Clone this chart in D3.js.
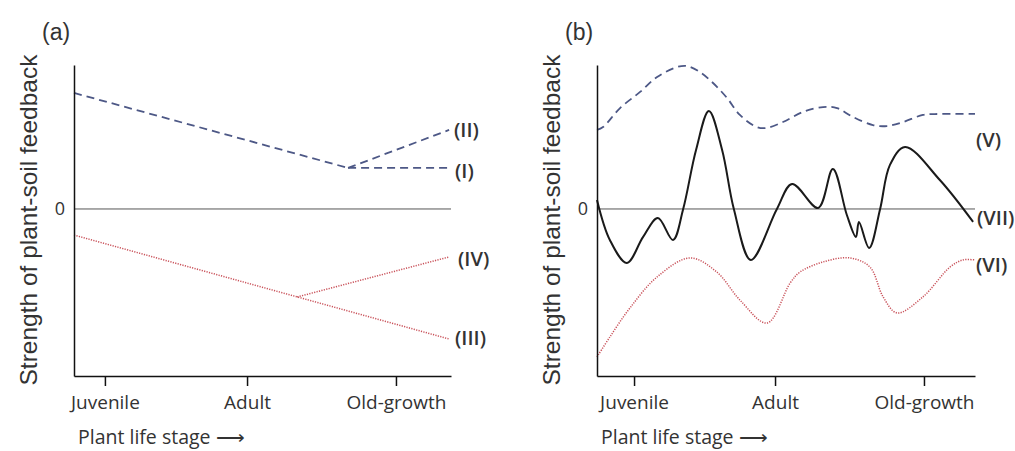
<!DOCTYPE html>
<html>
<head>
<meta charset="utf-8">
<script src="https://cdn.jsdelivr.net/npm/d3@7"></script>
<style>
  body { margin: 0; background: #fff; }
  text { font-family: "Open Sans", sans-serif; fill: #333; }
</style>
</head>
<body>
<svg></svg>
<script>
        const svgWidth = 1015;
        const svgHeight = 451;

        // shared categories
        const stages = ["Juvenile", "Adult", "Old-growth"];
        const stagePosA = [8.2, 45.9, 85.4];
        const stagePosB = [9.8, 47.1, 86.5];

        // panel (a) series, [stage, feedback]
        const seriesDecline = [[0, 8.06], [72.7, 2.85]];
        const seriesII = [[72.7, 2.85], [99.5, 5.49]];
        const seriesI = [[72.7, 2.85], [99.5, 2.85]];
        const seriesIII = [[0, -1.81], [99.5, -9.03]];
        const seriesIV = [[59.2, -6.11], [99.5, -3.33]];

        // panel (b) series
        const seriesV = [[0, 5.49], [1.6, 5.69], [6.1, 7.01], [11.4, 8.13], [15.9, 9.17], [21.2, 9.86],
            [23.8, 9.93], [27.2, 9.51], [30.7, 8.75], [34.4, 7.71], [37.8, 6.53], [42.3, 5.69],
            [45.0, 5.63], [49.2, 6.04], [54.5, 6.74], [59.8, 7.08], [63.5, 7.01], [67.7, 6.39],
            [73.0, 5.83], [76.7, 5.76], [81.0, 6.04], [86.2, 6.53], [90.7, 6.60], [100, 6.60]];
        const seriesVII = [[0, 0.63], [3.4, -2.15], [7.9, -3.75], [12.2, -1.94], [16.1, -0.63],
            [20.1, -2.15], [22.8, 0], [26.2, 4.10], [29.6, 6.81], [33.1, 4.10], [36.2, 0],
            [40.7, -3.54], [47.6, 0], [51.6, 1.74], [58.5, 0.07], [62.4, 2.78], [66.1, -0.42],
            [68.5, -1.94], [69.3, -0.90], [72.0, -2.71], [74.9, 0], [77.5, 3.06], [81.5, 4.31],
            [90.7, 2.01], [99.5, -0.90]];
        const seriesVI = [[0, -10.28], [3.4, -8.89], [8.7, -6.88], [15.9, -4.72], [24.6, -3.40],
            [31.7, -4.38], [37.8, -6.32], [45.0, -7.92], [51.1, -5.14], [53.7, -4.38],
            [59.8, -3.68], [66.9, -3.40], [72.2, -4.03], [75.7, -6.11], [79.4, -7.22],
            [86.2, -6.11], [93.4, -4.03], [96.8, -3.54], [100, -3.54]];

        const blue = "#4d5886";
        const red = "#c9525a";

        const svg = d3.select("svg")
            .attr("width", svgWidth)
            .attr("height", svgHeight);

        const y = d3.scaleLinear().domain([-11.6, 10]).range([376, 65]);

        function drawPanel(x0, x1, stagePos, letter, lines, labels) {
            const x = d3.scaleLinear().domain([0, 100]).range([x0, x1]);
            const g = svg.append("g");

            // zero line
            g.append("line")
                .attr("x1", x(0)).attr("x2", x(100))
                .attr("y1", y(0)).attr("y2", y(0))
                .attr("stroke", "#555").attr("stroke-width", 1);

            lines.forEach(l => {
                const line = d3.line()
                    .x(d => x(d[0]))
                    .y(d => y(d[1]))
                    .curve(l.smooth ? d3.curveCatmullRom.alpha(0.5) : d3.curveLinear);
                g.append("path")
                    .attr("d", line(l.data))
                    .attr("fill", "none")
                    .attr("stroke", l.color)
                    .attr("stroke-width", l.width)
                    .attr("stroke-dasharray", l.dash)
                    .attr("stroke-linejoin", "round");
            });

            const xAxis = d3.axisBottom(x)
                .tickValues(stagePos)
                .tickFormat((d, i) => stages[i])
                .tickSize(10)
                .tickSizeOuter(0)
                .tickPadding(10);
            const ax = g.append("g")
                .attr("transform", `translate(0,${y(-11.6)})`)
                .call(xAxis);
            ax.select(".domain").attr("stroke", "#111").attr("stroke-width", 1.5);
            ax.selectAll(".tick line").attr("stroke", "#111").attr("stroke-width", 1.5);
            ax.selectAll(".tick text")
                .style("font-family", "'Open Sans', sans-serif")
                .style("font-size", "19px").attr("fill", "#2e2e2e");

            const yAxis = d3.axisLeft(y).tickValues([0]).tickSize(0).tickPadding(9);
            const ay = g.append("g")
                .attr("transform", `translate(${x0},0)`)
                .call(yAxis);
            ay.select(".domain").attr("stroke", "#111").attr("stroke-width", 1.5);
            ay.selectAll(".tick text")
                .style("font-family", "'Open Sans', sans-serif")
                .style("font-size", "18px").attr("fill", "#333");

            g.append("text")
                .attr("transform", `translate(${x0 - 46},220) rotate(-90)`)
                .attr("text-anchor", "middle")
                .attr("dy", "0.35em")
                .style("font-family", "'Liberation Sans', Arial, sans-serif")
                .style("font-size", "24.5px")
                .text("Strength of plant-soil feedback");

            g.append("text")
                .attr("x", x0 + 4).attr("y", 444)
                .style("font-size", "19.5px")
                .text("Plant life stage \u27f6");

            g.append("text")
                .attr("x", x0 - 32).attr("y", 40)
                .style("font-family", "'Liberation Sans', Arial, sans-serif")
                .style("font-size", "23px")
                .text(letter);

            labels.forEach(lb => {
                g.append("text")
                    .attr("x", x1 + lb.dx).attr("y", y(lb.v))
                    .attr("dy", "0.35em")
                    .style("font-size", "20px")
                    .style("font-weight", "600")
                    .attr("fill", "#444")
                    .text(lb.t);
            });
        }

        drawPanel(74, 451, stagePosA, "(a)", [
            { data: seriesDecline, color: blue, width: 1.8, dash: "8,5" },
            { data: seriesII, color: blue, width: 1.8, dash: "8,5" },
            { data: seriesI, color: blue, width: 1.8, dash: "8,5" },
            { data: seriesIII, color: red, width: 1.5, dash: "1.2,1.3" },
            { data: seriesIV, color: red, width: 1.5, dash: "1.2,1.3" }
        ], [
            { t: "(II)", v: 5.5, dx: 3 },
            { t: "(I)", v: 2.65, dx: 4 },
            { t: "(IV)", v: -3.45, dx: 7 },
            { t: "(III)", v: -8.95, dx: 4 }
        ]);

        drawPanel(597, 975, stagePosB, "(b)", [
            { data: seriesV, color: blue, width: 1.8, dash: "8,5", smooth: true },
            { data: seriesVII, color: "#1a1a1a", width: 2, dash: null, smooth: true },
            { data: seriesVI, color: red, width: 1.5, dash: "1.2,1.3", smooth: true }
        ], [
            { t: "(V)", v: 4.8, dx: 1 },
            { t: "(VII)", v: -0.6, dx: 2 },
            { t: "(VI)", v: -3.9, dx: 1 }
        ]);
</script>
</body>
</html>
